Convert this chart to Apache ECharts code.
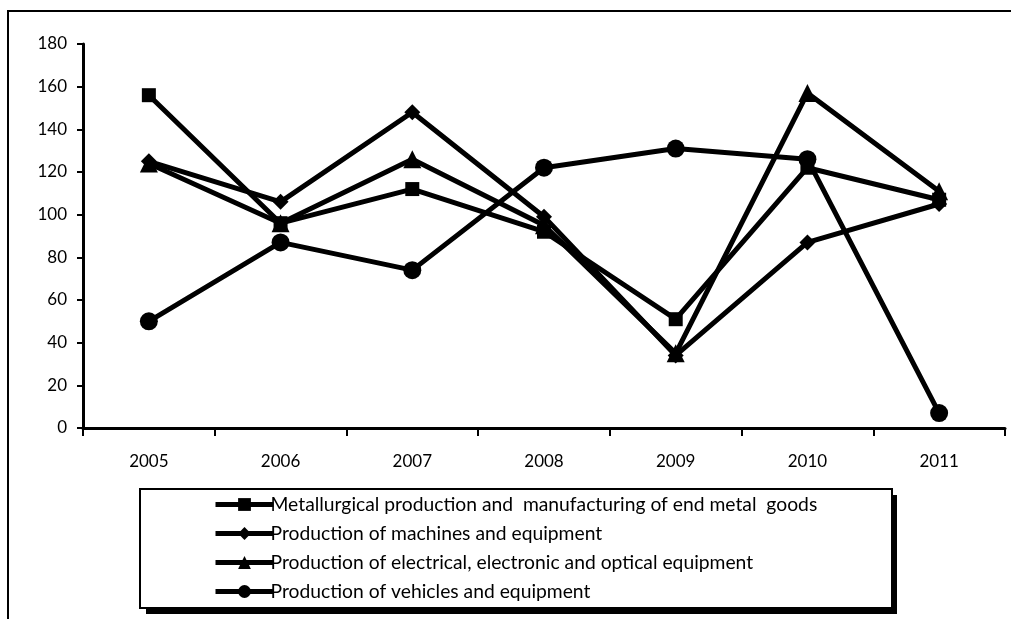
<!DOCTYPE html>
<html>
<head>
<meta charset="utf-8">
<script src="https://cdn.jsdelivr.net/npm/echarts@6/dist/echarts.min.js"></script>
<style>
html,body{margin:0;padding:0;background:#fff;}
#main{width:1011px;height:619px;}
</style>
</head>
<body>
<div id="main"></div>
<script>
var years = ['2005','2006','2007','2008','2009','2010','2011'];
var yTicks = [0, 20, 40, 60, 80, 100, 120, 140, 160, 180];
var seriesNames = [
  'Metallurgical production and  manufacturing of end metal  goods',
  'Production of machines and equipment',
  'Production of electrical, electronic and optical equipment',
  'Production of vehicles and equipment'
];
var metallurgical = [156, 96, 112, 92, 51, 122, 107];
var machines = [125, 106, 148, 99, 34, 87, 105];
var electrical = [124, 96, 126, 95, 35, 157, 111];
var vehicles = [50, 87, 74, 122, 131, 126, 7];

var FONT = 'Lato, "Liberation Sans Narrow", sans-serif';
var chart = echarts.init(document.getElementById('main'), null, {renderer: 'canvas'});

function mk(name, data, symbol, size) {
  return {
    name: name, type: 'line', data: data,
    symbol: symbol, symbolSize: size, showSymbol: true,
    lineStyle: {color: '#000', width: 5},
    itemStyle: {color: '#000', borderWidth: 0},
    emphasis: {disabled: true},
    animation: false, z: 3
  };
}

chart.setOption({
  animation: false,
  backgroundColor: '#fff',
  textStyle: {fontFamily: FONT},
  grid: {left: 83, right: 6, top: 44, bottom: 191, containLabel: false},
  xAxis: {
    type: 'category', data: years, boundaryGap: true,
    axisLine: {lineStyle: {color: '#000', width: 3}},
    axisTick: {show: true, length: 8, lineStyle: {color: '#000', width: 2}, alignWithLabel: false},
    axisLabel: {color: '#000', fontSize: 17, fontFamily: FONT, margin: 25}
  },
  yAxis: {
    type: 'value', min: yTicks[0], max: yTicks[yTicks.length - 1], interval: 20,
    splitLine: {show: false},
    axisLine: {show: true, lineStyle: {color: '#000', width: 3}},
    axisTick: {show: true, length: 6, lineStyle: {color: '#000', width: 2}},
    axisLabel: {color: '#000', fontSize: 17, fontFamily: FONT, margin: 16}
  },
  legend: {
    orient: 'vertical', left: 208, top: 490,
    data: seriesNames,
    itemWidth: 58, itemHeight: 16, itemGap: 10,
    lineStyle: {width: 5},
    textStyle: {color: '#000', fontSize: 19.3, fontFamily: FONT, padding: [0, 0, 0, -8]},
    selectedMode: false
  },
  graphic: [
    {type: 'rect', shape: {x: 8, y: 11, width: 1100, height: 700},
     style: {fill: 'none', stroke: '#000', lineWidth: 2}, z: 0, silent: true},
    {type: 'rect', shape: {x: 146, y: 495, width: 751, height: 119},
     style: {fill: '#000'}, z: 0, silent: true},
    {type: 'rect', shape: {x: 140, y: 489, width: 752, height: 119},
     style: {fill: '#fff', stroke: '#000', lineWidth: 2}, z: 0, silent: true}
  ],
  series: [
    mk(seriesNames[0], metallurgical, 'rect', 14),
    mk(seriesNames[1], machines, 'diamond', 16),
    mk(seriesNames[2], electrical, 'triangle', 18),
    mk(seriesNames[3], vehicles, 'circle', 18)
  ]
});
</script>
</body>
</html>
